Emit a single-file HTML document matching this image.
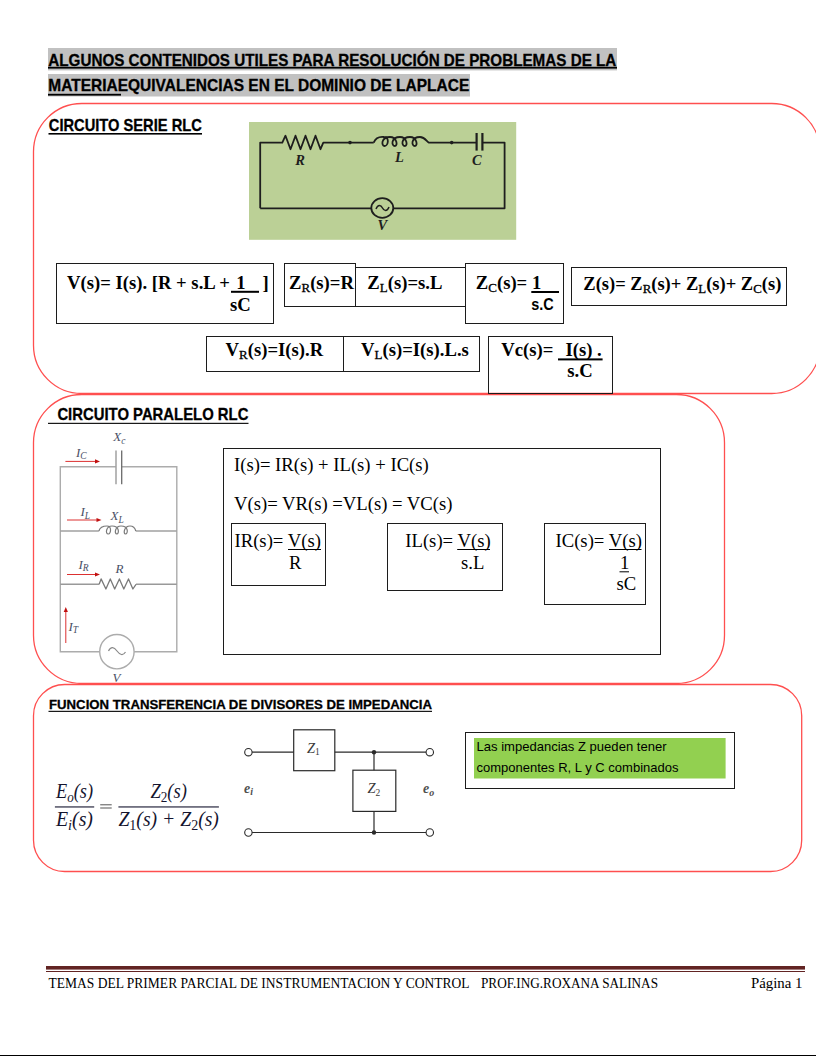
<!DOCTYPE html>
<html><head><meta charset="utf-8"><title>Algunos contenidos utiles</title>
<style>
html,body{margin:0;padding:0;background:#fff;}
body{width:816px;height:1056px;overflow:hidden;font-family:"Liberation Sans",sans-serif;}
svg{display:block;}
text{white-space:pre;}
</style></head><body>
<svg width="816" height="1056" viewBox="0 0 816 1056" xml:space="preserve">
<rect x="48" y="48" width="569" height="22.4" fill="#c1c1c1" stroke="none" stroke-width="1"/>
<rect x="48" y="74" width="422" height="22.5" fill="#c1c1c1" stroke="none" stroke-width="1"/>
<text x="48.3" y="65.6" font-family="Liberation Sans" font-size="15.7" font-weight="bold" textLength="568" lengthAdjust="spacingAndGlyphs" stroke="#000" stroke-width="0.3">ALGUNOS CONTENIDOS UTILES PARA RESOLUCIÓN DE PROBLEMAS DE LA</text>
<rect x="48" y="66.8" width="569" height="1.8" fill="#000" stroke="none" stroke-width="1"/>
<text x="48.3" y="91.4" font-family="Liberation Sans" font-size="15.7" font-weight="bold" textLength="421" lengthAdjust="spacingAndGlyphs" stroke="#000" stroke-width="0.3">MATERIAEQUIVALENCIAS EN EL DOMINIO DE LAPLACE</text>
<rect x="48" y="93.8" width="73" height="1.8" fill="#000" stroke="none" stroke-width="1"/>
<rect x="33.5" y="103.5" width="786.5" height="290.0" rx="48.3" ry="48.3" fill="none" stroke="#ff4f4f" stroke-width="1.3"/>
<rect x="33.5" y="394.5" width="691.0" height="289.0" rx="48.2" ry="48.2" fill="none" stroke="#ff4f4f" stroke-width="1.3"/>
<rect x="33.5" y="684.5" width="768.2" height="187.0" rx="31.2" ry="31.2" fill="none" stroke="#ff4f4f" stroke-width="1.3"/>
<text x="48.8" y="131.3" font-family="Liberation Sans" font-size="16.2" font-weight="bold" textLength="153" lengthAdjust="spacingAndGlyphs" stroke="#000" stroke-width="0.3">CIRCUITO SERIE RLC</text>
<rect x="48.5" y="133" width="153.5" height="1.6" fill="#000" stroke="none" stroke-width="1"/>
<rect x="249" y="122" width="267.2" height="117.8" fill="#bbd096" stroke="none" stroke-width="1"/>
<g stroke="#1e1e1e" stroke-width="1.8" fill="none" stroke-linejoin="round">
<path d="M260.2,208.3 L260.2,142.6 L282.3,142.6 L285.5,135.7 L290.5,149.2 L295.5,135.7 L300.5,149.2 L305.5,135.7 L310.5,149.2 L315.5,135.7 L320.5,149.2 L323.3,142.6 L373.7,142.6" fill="none"/>
<path d="M373.7,142.6 C376,137 380,136.5 384,137 C390,137 388,146 384.7,146 C381,146 381,137 390,137 C397,137 398,146 395,146 C391,146 391,137 400,137 C407,137 408,146 405,146 C401,146 401,137 410,137 C417,137 418,146 415,146 C411,146 411,137 420,137 C425,137 427,142 428.8,142.6 L476.6,142.6" fill="none"/>
<path d="M482.4,142.6 L504.6,142.6 L504.6,208.3 L393.5,208.3" fill="none"/>
<path d="M371,208.3 L260.2,208.3" fill="none"/>
</g>
<line x1="476.6" y1="133" x2="476.6" y2="150.6" stroke="#1e1e1e" stroke-width="2.2"/>
<line x1="482.4" y1="133" x2="482.4" y2="150.6" stroke="#1e1e1e" stroke-width="2.2"/>
<circle cx="350" cy="142.6" r="1.8" fill="#1e1e1e"/><circle cx="451.7" cy="142.6" r="1.8" fill="#1e1e1e"/>
<ellipse cx="382.3" cy="208" rx="11" ry="9.8" fill="none" stroke="#1e1e1e" stroke-width="1.8"/>
<path d="M376,209 C378,204 381,205 382.5,208 C384,211 387,212 389,207" stroke="#1e1e1e" stroke-width="1.5" fill="none"/>
<text x="295.3" y="165.2" font-family="Liberation Serif" font-size="14.5" font-weight="bold" font-style="italic" fill="#1e1e1e">R</text>
<text x="395" y="161.8" font-family="Liberation Serif" font-size="14.5" font-weight="bold" font-style="italic" fill="#1e1e1e">L</text>
<text x="472" y="165.3" font-family="Liberation Serif" font-size="14.5" font-weight="bold" font-style="italic" fill="#1e1e1e">C</text>
<text x="377.5" y="229.6" font-family="Liberation Serif" font-size="14.5" font-weight="bold" font-style="italic" fill="#1e1e1e">V</text>
<rect x="56.5" y="263.5" width="217" height="60" fill="none" stroke="#1c1c1c" stroke-width="1"/>
<rect x="284.5" y="263.5" width="71" height="43" fill="none" stroke="#1c1c1c" stroke-width="1"/>
<rect x="355.5" y="267.5" width="110" height="39" fill="none" stroke="#1c1c1c" stroke-width="1"/>
<rect x="465.5" y="263.5" width="98" height="60" fill="none" stroke="#1c1c1c" stroke-width="1"/>
<rect x="571.5" y="267.5" width="215" height="38" fill="none" stroke="#1c1c1c" stroke-width="1"/>
<rect x="206.5" y="336.5" width="137" height="35" fill="none" stroke="#1c1c1c" stroke-width="1"/>
<rect x="343.5" y="336.5" width="136" height="35" fill="none" stroke="#1c1c1c" stroke-width="1"/>
<rect x="488.5" y="336.5" width="124" height="57" fill="none" stroke="#1c1c1c" stroke-width="1"/>
<text x="67" y="288.8" font-family="Liberation Serif" font-size="18.67" font-weight="bold">V(s)= I(s). [R + s.L +</text>
<text x="236.3" y="288.8" font-family="Liberation Serif" font-size="18.67" font-weight="bold">1</text>
<text x="262.5" y="288.8" font-family="Liberation Serif" font-size="18.67" font-weight="bold">]</text>
<rect x="231" y="290.8" width="28" height="2" fill="#000" stroke="none" stroke-width="1"/>
<text x="230" y="311" font-family="Liberation Serif" font-size="18.67" font-weight="bold">sC</text>
<text x="289" y="289.2" font-family="Liberation Serif" font-size="18.67" font-weight="bold">Z<tspan font-size="13" font-weight="normal" stroke="#000" stroke-width="0.3" dy="3">R</tspan><tspan dy="-3">(s)=R</tspan></text>
<text x="367.3" y="289.2" font-family="Liberation Serif" font-size="18.67" font-weight="bold">Z<tspan font-size="13" font-weight="normal" stroke="#000" stroke-width="0.3" dy="3">L</tspan><tspan dy="-3">(s)=s.L</tspan></text>
<text x="475.8" y="288.7" font-family="Liberation Serif" font-size="18.67" font-weight="bold">Z<tspan font-size="13" font-weight="normal" stroke="#000" stroke-width="0.3" dy="3">C</tspan><tspan dy="-3">(s)=</tspan></text>
<text x="532" y="288.7" font-family="Liberation Serif" font-size="18.67" font-weight="bold">1</text>
<rect x="531.3" y="291" width="27.700000000000045" height="2" fill="#000" stroke="none" stroke-width="1"/>
<text x="531.3" y="310.2" font-family="Liberation Sans" font-size="17" font-weight="bold" textLength="22.5" lengthAdjust="spacingAndGlyphs">s.C</text>
<text x="583.3" y="289.5" font-family="Liberation Serif" font-size="18.67" font-weight="bold" textLength="198" lengthAdjust="spacingAndGlyphs">Z(s)= Z<tspan font-size="13" font-weight="normal" stroke="#000" stroke-width="0.3" dy="3">R</tspan><tspan dy="-3">(s)+ Z</tspan><tspan font-size="13" font-weight="normal" stroke="#000" stroke-width="0.3" dy="3">L</tspan><tspan dy="-3">(s)+ Z</tspan><tspan font-size="13" font-weight="normal" stroke="#000" stroke-width="0.3" dy="3">C</tspan><tspan dy="-3">(s)</tspan></text>
<text x="225.6" y="356" font-family="Liberation Serif" font-size="18.67" font-weight="bold">V<tspan font-size="13" font-weight="normal" stroke="#000" stroke-width="0.3" dy="3">R</tspan><tspan dy="-3">(s)=I(s).R</tspan></text>
<text x="361.1" y="356" font-family="Liberation Serif" font-size="18.67" font-weight="bold">V<tspan font-size="13" font-weight="normal" stroke="#000" stroke-width="0.3" dy="3">L</tspan><tspan dy="-3">(s)=I(s).L.s</tspan></text>
<text x="501.2" y="355.6" font-family="Liberation Serif" font-size="18.67" font-weight="bold">Vc(s)=</text>
<text x="565.5" y="355.6" font-family="Liberation Serif" font-size="18.67" font-weight="bold">I(s) .</text>
<rect x="558" y="358.4" width="44.60000000000002" height="2" fill="#000" stroke="none" stroke-width="1"/>
<text x="567.3" y="376.9" font-family="Liberation Serif" font-size="18.67" font-weight="bold">s.C</text>
<text x="57.4" y="420.4" font-family="Liberation Sans" font-size="16.4" font-weight="bold" textLength="191" lengthAdjust="spacingAndGlyphs" stroke="#000" stroke-width="0.3">CIRCUITO PARALELO RLC</text>
<rect x="48" y="422.8" width="200.5" height="1.1" fill="#000" stroke="none" stroke-width="1"/>
<rect x="223.5" y="448.5" width="437" height="206" fill="none" stroke="#1c1c1c" stroke-width="1"/>
<text x="234" y="470.9" font-family="Liberation Serif" font-size="18.67">I(s)= IR(s) + IL(s) + IC(s)</text>
<text x="234" y="509.6" font-family="Liberation Serif" font-size="18.67">V(s)= VR(s) =VL(s) = VC(s)</text>
<rect x="231.5" y="523.5" width="94" height="62" fill="none" stroke="#1c1c1c" stroke-width="1"/>
<text x="234.5" y="547" font-family="Liberation Serif" font-size="18.67">IR(s)= V(s)</text>
<rect x="288" y="549" width="33" height="1" fill="#000" stroke="none" stroke-width="1"/>
<text x="289" y="568.5" font-family="Liberation Serif" font-size="18.67">R</text>
<rect x="387.5" y="523.5" width="115" height="67" fill="none" stroke="#1c1c1c" stroke-width="1"/>
<text x="405.3" y="546.9" font-family="Liberation Serif" font-size="18.67">IL(s)= V(s)</text>
<rect x="457.2" y="549" width="32.80000000000001" height="1" fill="#000" stroke="none" stroke-width="1"/>
<text x="461" y="569.2" font-family="Liberation Serif" font-size="18.67">s.L</text>
<rect x="544.5" y="523.5" width="101" height="81" fill="none" stroke="#1c1c1c" stroke-width="1"/>
<text x="555.5" y="546.5" font-family="Liberation Serif" font-size="18.67">IC(s)= V(s)</text>
<rect x="609" y="549" width="32.5" height="1" fill="#000" stroke="none" stroke-width="1"/>
<text x="620" y="569.2" font-family="Liberation Serif" font-size="18.67">1</text>
<rect x="619.5" y="571.3" width="9.5" height="1" fill="#000" stroke="none" stroke-width="1"/>
<text x="616.5" y="590.3" font-family="Liberation Serif" font-size="18.67">sC</text>
<path d="M116,466.8 L60.3,466.8 L60.3,651.7 L99.7,651.7" stroke="#acacac" stroke-width="1.4" fill="none"/>
<path d="M121.7,466.8 L176.8,466.8 L176.8,651.7 L134.1,651.7" stroke="#acacac" stroke-width="1.4" fill="none"/>
<path d="M60.3,531 L98.9,531" stroke="#a0a0a0" stroke-width="1.4" fill="none"/>
<path d="M135.8,531 L176.8,531" stroke="#a0a0a0" stroke-width="1.4" fill="none"/>
<path d="M98.9,531 C100,527 103,526 107,526 C112,526 111,534 108.3,534 C105,534 106,526 112,526 C120,526 119,534 116.9,534 C114,534 115,526 121,526 C129,526 128,534 125.5,534 C123,534 124,526 130,526 C133,526 135,528 135.8,531" stroke="#7a7a7a" stroke-width="1.2" fill="none"/>
<path d="M60.3,584.3 L99.2,584.3" stroke="#999" stroke-width="1.4" fill="none"/>
<path d="M136,584.3 L176.8,584.3" stroke="#999" stroke-width="1.4" fill="none"/>
<path d="M99.2,584.3 L101.1,578.9 L105.9,589 L110.3,578.9 L114.7,589 L119.4,578.9 L123.8,589 L128.5,578.9 L132.9,589 L136,584.3" stroke="#7a7a7a" stroke-width="1.3" fill="none" stroke-linejoin="round"/>
<line x1="116" y1="450.4" x2="116" y2="484.2" stroke="#a0a0a0" stroke-width="1.5"/>
<line x1="121.7" y1="450.4" x2="121.7" y2="484.2" stroke="#6a6a6a" stroke-width="1.3"/>
<circle cx="116.9" cy="651.7" r="17.2" fill="#fff" stroke="#acacac" stroke-width="1.4"/>
<path d="M108.5,651 C111,646 114,647 117,651 C120,655 123,656 125.5,652" stroke="#888" stroke-width="1.2" fill="none"/>
<line x1="65.4" y1="461.4" x2="96" y2="461.4" stroke="#dc3030" stroke-width="1"/>
<path d="M95,459.3 L100,461.4 L95,463.5 Z" fill="#c01010"/>
<line x1="67" y1="520" x2="97" y2="520" stroke="#dc3030" stroke-width="1"/>
<path d="M96.5,517.9 L101.5,520 L96.5,522.1 Z" fill="#c01010"/>
<line x1="67" y1="574.5" x2="95" y2="574.5" stroke="#dc3030" stroke-width="1"/>
<path d="M95,572.4 L100,574.5 L95,576.6 Z" fill="#c01010"/>
<line x1="65.8" y1="611" x2="65.8" y2="643" stroke="#dc3030" stroke-width="1"/>
<path d="M63.7,612 L65.8,607 L67.9,612 Z" fill="#c01010"/>
<text x="113.3" y="441" font-family="Liberation Serif" font-size="13" font-style="italic" fill="#4a4f66">X<tspan font-size="9.5" dy="2.5">c</tspan></text>
<text x="76" y="456.5" font-family="Liberation Serif" font-size="13" font-style="italic" fill="#4a4f66">I<tspan font-size="9.5" dy="2.5">C</tspan></text>
<text x="80.5" y="516" font-family="Liberation Serif" font-size="13" font-style="italic" fill="#4a4f66">I<tspan font-size="9.5" dy="2.5">L</tspan></text>
<text x="110.5" y="520" font-family="Liberation Serif" font-size="13" font-style="italic" fill="#4a4f66">X<tspan font-size="9.5" dy="2.5">L</tspan></text>
<text x="78.5" y="568.5" font-family="Liberation Serif" font-size="13" font-style="italic" fill="#4a4f66">I<tspan font-size="9.5" dy="2.5">R</tspan></text>
<text x="115.5" y="572.5" font-family="Liberation Serif" font-size="13" font-style="italic" fill="#4a4f66">R</text>
<text x="68.5" y="630.5" font-family="Liberation Serif" font-size="13" font-style="italic" fill="#4a4f66">I<tspan font-size="9.5" dy="2.5">T</tspan></text>
<text x="112.5" y="681.5" font-family="Liberation Serif" font-size="13" font-style="italic" fill="#4a4f66">V</text>
<text x="49" y="708.5" font-family="Liberation Sans" font-size="13.6" font-weight="bold" textLength="383" lengthAdjust="spacingAndGlyphs" stroke="#000" stroke-width="0.3">FUNCION TRANSFERENCIA DE DIVISORES DE IMPEDANCIA</text>
<rect x="48.5" y="710.8" width="383.5" height="1.1" fill="#000" stroke="none" stroke-width="1"/>
<text x="56" y="798" font-family="Liberation Serif" font-size="20.3" font-style="italic" fill="#14142e" textLength="37" lengthAdjust="spacingAndGlyphs">E<tspan font-size="14.5" dy="3.5">o</tspan><tspan dy="-3.5">(s)</tspan></text>
<text x="56" y="826.3" font-family="Liberation Serif" font-size="20.3" font-style="italic" fill="#14142e" textLength="37" lengthAdjust="spacingAndGlyphs">E<tspan font-size="14.5" dy="3.5">i</tspan><tspan dy="-3.5">(s)</tspan></text>
<rect x="54.9" y="806.4" width="39.300000000000004" height="1.1" fill="#14142e" stroke="none" stroke-width="1"/>
<rect x="100.2" y="804.3" width="11.5" height="1" fill="#555" stroke="none" stroke-width="1"/>
<rect x="100.2" y="807.5" width="11.5" height="1" fill="#555" stroke="none" stroke-width="1"/>
<rect x="118.4" y="806.4" width="100.5" height="1.1" fill="#14142e" stroke="none" stroke-width="1"/>
<text x="150.4" y="798" font-family="Liberation Serif" font-size="20.3" font-style="italic" fill="#14142e" textLength="36.5" lengthAdjust="spacingAndGlyphs">Z<tspan font-size="14.5" dy="3.5" font-style="normal">2</tspan><tspan dy="-3.5">(s)</tspan></text>
<text x="118.4" y="826.3" font-family="Liberation Serif" font-size="20.3" font-style="italic" fill="#14142e" textLength="100.5" lengthAdjust="spacingAndGlyphs">Z<tspan font-size="14.5" dy="3.5" font-style="normal">1</tspan><tspan dy="-3.5">(s) + Z</tspan><tspan font-size="14.5" dy="3.5" font-style="normal">2</tspan><tspan dy="-3.5">(s)</tspan></text>
<line x1="252" y1="752.2" x2="293.7" y2="752.2" stroke="#2a2a2a" stroke-width="1.2"/>
<line x1="334.8" y1="752.2" x2="426" y2="752.2" stroke="#2a2a2a" stroke-width="1.2"/>
<line x1="252" y1="832.5" x2="426" y2="832.5" stroke="#2a2a2a" stroke-width="1.2"/>
<line x1="374" y1="752.2" x2="374" y2="770.2" stroke="#2a2a2a" stroke-width="1.2"/>
<line x1="374" y1="811.4" x2="374" y2="832.5" stroke="#2a2a2a" stroke-width="1.2"/>
<rect x="293.7" y="729.8" width="41.1" height="40.9" fill="none" stroke="#2a2a2a" stroke-width="1.2"/>
<rect x="352.9" y="770.2" width="42.9" height="41.2" fill="none" stroke="#2a2a2a" stroke-width="1.2"/>
<circle cx="248.4" cy="752.2" r="3.7" fill="#fff" stroke="#2a2a2a" stroke-width="1.1"/>
<circle cx="429.8" cy="752.2" r="3.7" fill="#fff" stroke="#2a2a2a" stroke-width="1.1"/>
<circle cx="248.4" cy="832.5" r="3.7" fill="#fff" stroke="#2a2a2a" stroke-width="1.1"/>
<circle cx="429.8" cy="832.5" r="3.7" fill="#fff" stroke="#2a2a2a" stroke-width="1.1"/>
<circle cx="374" cy="752.2" r="2.2" fill="#2a2a2a"/><circle cx="374" cy="832.5" r="2.2" fill="#2a2a2a"/>
<text x="307" y="752.6" font-family="Liberation Serif" font-size="14.5" font-style="italic" fill="#3a3a3a">Z<tspan font-size="9.5" font-style="normal" dy="2.5">1</tspan></text>
<text x="367.5" y="793" font-family="Liberation Serif" font-size="14.5" font-style="italic" fill="#3a3a3a">Z<tspan font-size="9.5" font-style="normal" dy="2.5">2</tspan></text>
<text x="244" y="793" font-family="Liberation Serif" font-size="14" font-weight="bold" font-style="italic" fill="#505050">e<tspan font-size="10" dy="2">i</tspan></text>
<text x="423" y="793" font-family="Liberation Serif" font-size="14" font-weight="bold" font-style="italic" fill="#505050">e<tspan font-size="10" dy="2.5">o</tspan></text>
<rect x="465.5" y="732.5" width="269" height="56" fill="none" stroke="#1c1c1c" stroke-width="1"/>
<rect x="474" y="738" width="251.6" height="40.5" fill="#92d050" stroke="none" stroke-width="1"/>
<text x="476.5" y="750.7" font-family="Liberation Sans" font-size="12.8" textLength="190" lengthAdjust="spacingAndGlyphs">Las impedancias Z pueden tener</text>
<text x="476.5" y="771.5" font-family="Liberation Sans" font-size="12.8" textLength="202" lengthAdjust="spacingAndGlyphs">componentes R, L y C combinados</text>
<rect x="46" y="966" width="759" height="3.6" fill="#622423" stroke="none" stroke-width="1"/>
<rect x="46" y="971" width="759" height="1" fill="#622423" stroke="none" stroke-width="1"/>
<text x="48.5" y="987.5" font-family="Liberation Serif" font-size="13.9" textLength="421" lengthAdjust="spacingAndGlyphs">TEMAS DEL PRIMER PARCIAL DE INSTRUMENTACION Y CONTROL</text>
<text x="481" y="987.5" font-family="Liberation Serif" font-size="13.9" textLength="177" lengthAdjust="spacingAndGlyphs">PROF.ING.ROXANA SALINAS</text>
<text x="751" y="987.5" font-family="Liberation Serif" font-size="13.9" textLength="51.5" lengthAdjust="spacingAndGlyphs">Página 1</text>
<rect x="0" y="1055" width="816" height="1" fill="#000" stroke="none" stroke-width="1"/>
</svg>
</body></html>
